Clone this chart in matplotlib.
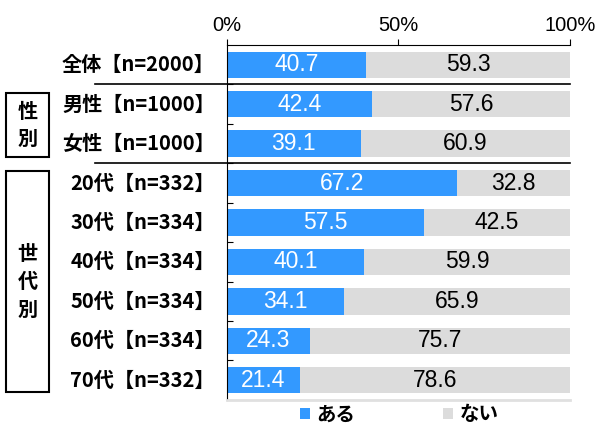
import numpy as np
import matplotlib.pyplot as plt
from matplotlib.patches import Rectangle

plt.rcParams['font.family'] = ['Noto Sans CJK JP', 'DejaVu Sans']

# data
labels = ["全体【n=2000】", "男性【n=1000】", "女性【n=1000】",
          "20代【n=332】", "30代【n=334】", "40代【n=334】",
          "50代【n=334】", "60代【n=334】", "70代【n=332】"]
aru = [40.7, 42.4, 39.1, 67.2, 57.5, 40.1, 34.1, 24.3, 21.4]
nai = [59.3, 57.6, 60.9, 32.8, 42.5, 59.9, 65.9, 75.7, 78.6]
series_names = ["ある", "ない"]

BLUE = "#3399FF"
GREY = "#DCDCDC"

fig = plt.figure(figsize=(6, 4.25), dpi=100)
ax = fig.add_axes([0.378, 0.059, 0.572, 0.835])

y = np.arange(len(labels))
h = 0.67
ax.barh(y, aru, height=h, color=BLUE, label=series_names[0])
ax.barh(y, nai, left=aru, height=h, color=GREY, label=series_names[1])

for i in range(len(labels)):
    ax.text(aru[i] / 2, i, f"{aru[i]:.1f}", color="white", ha="center",
            va="center", fontsize=16.5, family="Liberation Sans")
    ax.text(aru[i] + nai[i] / 2, i, f"{nai[i]:.1f}", color="black",
            ha="center", va="center", fontsize=16.5, family="Liberation Sans")

ax.set_xlim(0, 100)
ax.set_ylim(len(labels) - 0.5, -0.5)
ax.xaxis.tick_top()
ax.set_xticks([0, 50, 100])
ax.set_xticklabels(["0%", "50%", "100%"], fontsize=14.5, family="Liberation Sans")
ax.tick_params(axis="x", length=4, pad=3)
ax.set_yticks(np.arange(len(labels) - 1) + 0.5)
ax.set_yticklabels([])
ax.tick_params(axis="y", direction="in", length=4)
ax.spines["right"].set_visible(False)
ax.spines["bottom"].set_color("#E0E0E0")
ax.spines["bottom"].set_linewidth(2)

for i, lab in enumerate(labels):
    ax.text(-0.035, i, lab, transform=ax.get_yaxis_transform(), ha="right",
            va="center", fontsize=14.5, fontweight="bold")

# separators across figure
for yy in [0.5, 2.5]:
    ax.plot([-0.385, 1.0], [yy, yy], transform=ax.get_yaxis_transform(),
            color="black", lw=1.2, clip_on=False)

# group boxes
def box(y0, y1, text):
    x0, x1 = 6 / 600, 49 / 600
    r = Rectangle((x0, 1 - y1 / 425), x1 - x0, (y1 - y0) / 425,
                  transform=fig.transFigure, fill=False, lw=1.5,
                  edgecolor="black")
    fig.add_artist(r)
    fig.text((x0 + x1) / 2, 1 - (y0 + y1) / 2 / 425, text, ha="center",
             va="center", fontsize=14.5, fontweight="bold", linespacing=1.4)

box(93, 157, "性\n別")
box(171, 392, "世\n代\n別")

leg = fig.legend(loc="lower center", bbox_to_anchor=(0.665, -0.04), ncol=2,
                 frameon=False, handlelength=0.55, handleheight=0.55,
                 columnspacing=4.5, handletextpad=0.3,
                 prop={"size": 14, "weight": "bold"})

fig.savefig("out.png", dpi=100)
